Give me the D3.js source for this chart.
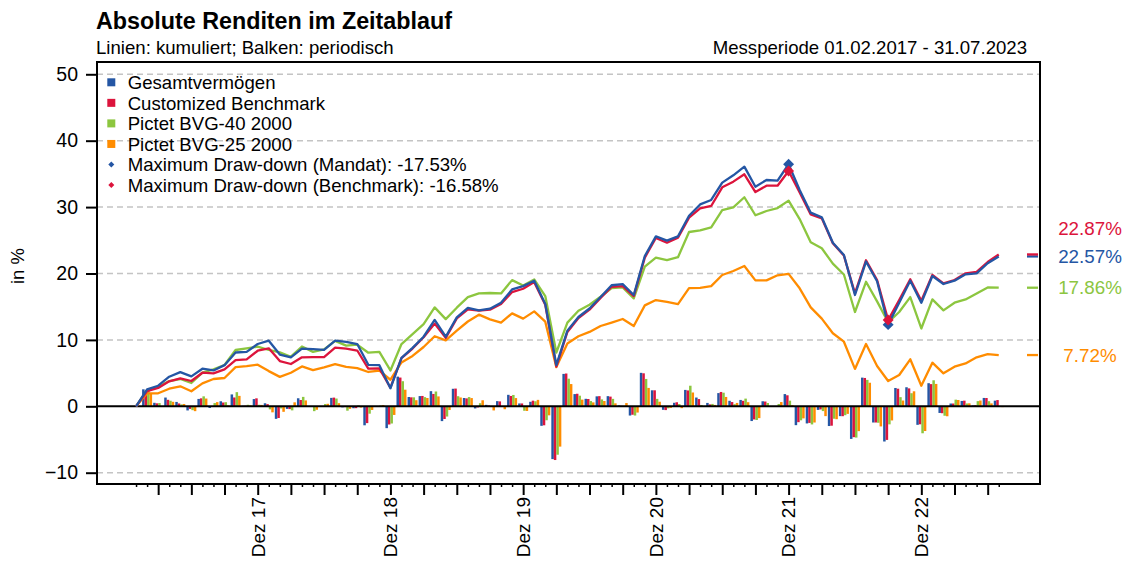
<!DOCTYPE html>
<html><head><meta charset="utf-8">
<script src="https://cdn.jsdelivr.net/npm/d3@7"></script>
<style>
body{margin:0;background:#fff;}
svg text{font-family:"Liberation Sans",Arial,Helvetica,sans-serif;fill:#000;}
</style>
</head><body>
<svg id="chart" width="1127" height="568"></svg>
<script>
// ---- categories (month ends, Jan 2017 = start point 0) ----
const months = ["Jan 17","Feb 17","Mär 17","Apr 17","Mai 17","Jun 17","Jul 17","Aug 17","Sep 17","Okt 17","Nov 17","Dez 17",
"Jan 18","Feb 18","Mär 18","Apr 18","Mai 18","Jun 18","Jul 18","Aug 18","Sep 18","Okt 18","Nov 18","Dez 18",
"Jan 19","Feb 19","Mär 19","Apr 19","Mai 19","Jun 19","Jul 19","Aug 19","Sep 19","Okt 19","Nov 19","Dez 19",
"Jan 20","Feb 20","Mär 20","Apr 20","Mai 20","Jun 20","Jul 20","Aug 20","Sep 20","Okt 20","Nov 20","Dez 20",
"Jan 21","Feb 21","Mär 21","Apr 21","Mai 21","Jun 21","Jul 21","Aug 21","Sep 21","Okt 21","Nov 21","Dez 21",
"Jan 22","Feb 22","Mär 22","Apr 22","Mai 22","Jun 22","Jul 22","Aug 22","Sep 22","Okt 22","Nov 22","Dez 22",
"Jan 23","Feb 23","Mär 23","Apr 23","Mai 23","Jun 23","Jul 23"];
const xTickLabels = ["Dez 17","Dez 18","Dez 19","Dez 20","Dez 21","Dez 22"];
const yTicks = [-10,0,10,20,30,40,50];

// ---- cumulative returns (lines), in % ----
const cumGesamt = [0,2.56,3.1,4.46,5.15,4.5,5.66,5.4,6.2,8.1,
8.2,9.38,9.88,7.8,7.38,8.68,8.6,8.5,9.88,9.7,
9.38,6.25,6.2,2.71,7.3,8.8,10.48,13.0,10.48,13.4,
14.82,14.45,14.7,15.6,17.6,18.1,18.9,15.4,6.22,11.4,
13.45,14.73,16.45,18.23,18.4,16.76,22.64,25.6,24.94,25.6,
28.7,30.4,31.07,33.68,34.79,36.09,33.07,34.08,33.98,36.45,
32.58,29.16,28.46,24.64,22.79,16.76,21.8,18.83,12.3,15.6,
18.92,15.6,19.62,18.42,18.92,19.88,20.03,21.54,22.57];
const cumBench = [0,2.30,2.76,3.77,4.22,3.81,5.06,4.97,5.57,6.97,
7.08,8.37,8.73,6.82,6.37,7.38,7.4,7.42,8.83,8.7,
8.4,5.66,5.7,2.8,7.25,8.7,10.4,12.45,10.3,13.25,
14.6,14.4,14.55,15.4,17.2,17.7,18.7,15.3,5.97,11.2,
13.3,14.55,16.3,18.0,18.1,16.6,22.4,25.35,24.64,25.4,
28.4,29.8,30.17,32.98,33.83,34.94,32.27,33.22,33.22,35.43,
32.2,28.9,28.3,24.55,22.7,17.0,22.0,19.02,13.0,16.0,
19.13,15.9,19.77,18.52,19.02,20.03,20.23,21.73,22.87];
const cumBVG40 = [0,2.45,2.95,3.81,4.11,3.51,5.06,5.57,6.22,8.48,
8.73,8.98,8.48,8.13,7.47,9.0,8.2,8.58,9.85,9.13,
9.28,8.07,8.2,5.4,9.38,10.86,12.39,14.9,13.13,14.85,
16.45,17.0,17.06,17.0,19.0,18.2,19.1,16.6,8.1,12.6,
14.4,15.3,16.5,17.8,17.9,16.26,21.05,22.4,22.03,22.45,
26.25,26.5,26.96,29.56,29.97,31.48,28.77,29.41,29.86,30.97,
28.2,24.7,23.8,21.48,19.85,14.2,18.75,15.8,12.65,14.2,
16.45,11.72,16.1,14.45,15.6,16.1,17.0,17.9,17.86];
const cumBVG25 = [0,1.96,1.96,2.65,3.01,2.26,3.46,4.11,4.26,5.9,
6.05,6.27,5.3,4.43,5.06,6.0,5.45,5.85,6.35,5.95,
5.75,5.17,5.37,4.0,6.6,7.58,8.93,10.55,9.93,11.39,
12.77,13.8,13.1,12.6,14.0,13.2,14.3,12.74,5.9,9.45,
10.55,11.2,12.09,12.6,13.15,12.09,15.2,16.0,15.72,15.4,
17.8,17.85,18.1,19.77,20.38,21.13,18.97,18.97,19.73,19.95,
17.77,14.9,13.2,11.0,9.73,5.63,9.38,6.07,3.81,4.71,
7.08,3.1,6.57,4.97,5.97,6.45,7.38,7.85,7.72];

// ---- periodic (monthly) returns (bars), Feb 17 .. Jul 23, in % ----
const perGesamt = [2.56,0.53,1.32,0.66,-0.62,1.11,-0.25,0.76,1.79,0.09,
1.09,0.46,-1.89,-0.39,1.21,-0.07,-0.09,1.27,-0.16,-0.29,
-2.86,-0.05,-3.29,4.47,1.40,1.54,2.28,-2.23,2.64,1.25,
-0.32,0.22,0.78,1.73,0.43,0.68,-2.94,-7.95,4.88,1.84,
1.13,1.50,1.53,0.14,-1.39,5.04,2.41,-0.53,0.53,2.47,
1.32,0.51,1.99,0.83,0.96,-2.22,0.76,-0.07,1.84,-2.84,
-2.58,-0.54,-2.97,-1.48,-4.91,4.32,-2.44,-5.30,2.76,2.87,
-2.79,3.48,-1.00,0.42,0.81,0.13,1.26,0.85];
const perBench = [2.30,0.45,0.98,0.43,-0.39,1.20,-0.09,0.57,1.33,0.10,
1.20,0.33,-1.76,-0.42,0.95,0.02,0.02,1.31,-0.12,-0.28,
-2.53,0.04,-2.74,4.33,1.35,1.56,1.86,-1.91,2.67,1.19,
-0.17,0.13,0.74,1.56,0.43,0.85,-2.86,-8.09,4.94,1.89,
1.10,1.53,1.46,0.08,-1.27,4.97,2.41,-0.57,0.61,2.39,
1.09,0.29,2.16,0.64,0.83,-1.98,0.72,0.00,1.66,-2.39,
-2.50,-0.47,-2.92,-1.49,-4.65,4.27,-2.44,-5.06,2.65,2.70,
-2.71,3.34,-1.04,0.42,0.85,0.17,1.25,0.94];
const perBVG40 = [2.45,0.49,0.84,0.29,-0.58,1.50,0.49,0.62,2.13,0.23,
0.23,-0.46,-0.32,-0.61,1.42,-0.73,0.35,1.17,-0.66,0.14,
-1.11,0.12,-2.59,3.78,1.35,1.38,2.23,-1.54,1.52,1.39,
0.47,0.05,-0.05,1.71,-0.67,0.76,-2.10,-7.29,4.16,1.60,
0.79,1.04,1.12,0.08,-1.39,4.12,1.12,-0.30,0.34,3.10,
0.20,0.36,2.05,0.32,1.16,-2.06,0.50,0.35,0.85,-2.11,
-2.73,-0.72,-1.87,-1.34,-4.71,3.98,-2.48,-2.72,1.38,1.97,
-4.06,3.92,-1.42,1.00,0.43,0.78,0.77,-0.03];
const perBVG25 = [1.96,0.00,0.68,0.35,-0.73,1.17,0.63,0.14,1.57,0.14,
0.21,-0.91,-0.83,0.60,0.89,-0.52,0.38,0.47,-0.38,-0.19,
-0.55,0.19,-1.30,2.50,0.92,1.25,1.49,-0.56,1.33,1.24,
0.91,-0.62,-0.44,1.24,-0.70,0.97,-1.36,-6.07,3.35,1.01,
0.59,0.80,0.45,0.49,-0.94,2.77,0.69,-0.24,-0.28,2.08,
0.04,0.21,1.41,0.51,0.62,-1.78,0.00,0.64,0.18,-1.82,
-2.44,-1.48,-1.94,-1.14,-3.74,3.55,-3.03,-2.13,0.87,2.26,
-3.72,3.37,-1.50,0.95,0.45,0.87,0.44,-0.12];

// ---- maximum draw-down: peak and trough month indices ----
const ddMandatIdx = [59, 68];
const ddBenchIdx = [59, 68];
const ddMandatText = "-17.53%";
const ddBenchText = "-16.58%";

const seriesNames = ["Gesamtvermögen","Customized Benchmark","Pictet BVG-40 2000","Pictet BVG-25 2000"];
const colors = ["#2456a4","#dc143c","#8cc63f","#ff8c00"];

// ---------------------------------------------------------------
const svg = d3.select("#chart");
const P = {l:97, t:62, r:1040, b:484};
const x = d3.scaleLinear().domain([-3.53, 81.73]).range([P.l, P.r]);
const y = d3.scaleLinear().domain([-11.7, 51.85]).range([P.b, P.t]);

// titles
svg.append("text").attr("x",96).attr("y",28.5).attr("font-size","23.3px").attr("font-weight","bold")
  .text("Absolute Renditen im Zeitablauf");
svg.append("text").attr("x",96).attr("y",53.5).attr("font-size","18.6px")
  .text("Linien: kumuliert; Balken: periodisch");
svg.append("text").attr("x",1027).attr("y",53.5).attr("font-size","18.6px").attr("text-anchor","end")
  .text("Messperiode 01.02.2017 - 31.07.2023");

// grid
svg.append("g").selectAll("line").data(yTicks.filter(v=>v!==0)).join("line")
  .attr("x1",P.l).attr("x2",P.r).attr("y1",d=>y(d)).attr("y2",d=>y(d))
  .attr("stroke","#c4c4c4").attr("stroke-width",1.5).attr("stroke-dasharray","6,4");

// bars
const cumAll = [cumGesamt, cumBench, cumBVG40, cumBVG25];
const perAll = [perGesamt, perBench, perBVG40, perBVG25];
const sub = d3.scaleBand().domain([0,1,2,3]).range([-5,5]);
const gBars = svg.append("g");
perAll.forEach((arr, s) => {
  gBars.append("g").selectAll("rect").data(arr).join("rect")
    .attr("x",(d,i)=>x(i+1)+sub(s))
    .attr("width",sub.bandwidth())
    .attr("y",d=>Math.min(y(d),y(0)))
    .attr("height",d=>Math.abs(y(d)-y(0)))
    .attr("fill",colors[s]);
});

// zero line
svg.append("line").attr("x1",P.l).attr("x2",P.r).attr("y1",y(0)).attr("y2",y(0))
  .attr("stroke","#000").attr("stroke-width",2);

// lines (orange, green, red, blue on top)
const line = d3.line().x((d,i)=>x(i)).y(d=>y(d));
[3,2,1,0].forEach(s => {
  svg.append("path").datum(cumAll[s]).attr("d",line)
    .attr("fill","none").attr("stroke",colors[s]).attr("stroke-width",2.3)
    .attr("stroke-linejoin","round");
});

// draw-down markers
const diamond = d3.symbol().type(d3.symbolSquare).size(60);
svg.append("g").selectAll("path").data(ddMandatIdx).join("path")
  .attr("d",diamond).attr("fill",colors[0])
  .attr("transform",d=>`translate(${x(d)},${y(cumGesamt[d])}) rotate(45)`);
svg.append("g").selectAll("path").data(ddBenchIdx).join("path")
  .attr("d",diamond).attr("fill",colors[1])
  .attr("transform",d=>`translate(${x(d)},${y(cumBench[d])}) rotate(45)`);

// final value markers and labels
const finals = cumAll.map((a,s)=>({s, v:a[a.length-1]}));
finals.forEach(f=>{
  svg.append("line").attr("x1",1027).attr("x2",1038).attr("y1",y(f.v)).attr("y2",y(f.v))
    .attr("stroke",colors[f.s]).attr("stroke-width",2.3);
});
const sorted = finals.slice().sort((a,b)=>a.v-b.v);
let lastY = Infinity;
sorted.forEach(f=>{
  let ly = y(f.v);
  if (ly > lastY - 28) ly = lastY - 28;
  f.ly = ly; lastY = ly;
});
finals.forEach(f=>{
  svg.append("text").attr("x",1090).attr("y",f.ly).attr("dy","0.36em")
    .attr("text-anchor","middle").attr("font-size","18.8px")
    .style("fill",colors[f.s]).text(d3.format(".2f")(f.v)+"%");
});

// frame
svg.append("rect").attr("x",P.l).attr("y",P.t).attr("width",P.r-P.l).attr("height",P.b-P.t)
  .attr("fill","none").attr("stroke","#000").attr("stroke-width",2);

// y axis
const yAxis = svg.append("g").attr("transform",`translate(${P.l},0)`)
  .call(d3.axisLeft(y).tickValues(yTicks).tickSize(11).tickPadding(8).tickFormat(d3.format("d")));
yAxis.select(".domain").remove();
yAxis.selectAll(".tick line").attr("stroke","#000").attr("stroke-width",2);
yAxis.selectAll(".tick text").attr("font-size","19.5px").attr("font-family","Liberation Sans, Arial, sans-serif");
svg.append("text").attr("transform","translate(24,266) rotate(-90)").attr("text-anchor","middle")
  .attr("font-size","18.5px").text("in %");

// x axis ticks
const idx = d3.range(months.length);
const xAxis = svg.append("g").attr("transform",`translate(0,${P.b})`)
  .call(d3.axisBottom(x).tickValues(idx).tickSize(3).tickFormat(""));
xAxis.select(".domain").remove();
xAxis.selectAll(".tick line")
  .attr("y2",d=> (d%3===2) ? 11 : 3)
  .attr("stroke","#000").attr("stroke-width",d=> (d%3===2) ? 2 : 1.5);
const decIdx = idx.filter(i=>months[i].startsWith("Dez"));
svg.append("g").selectAll("text").data(decIdx).join("text")
  .attr("transform",(d,k)=>`translate(${x(d)},497) rotate(-90)`)
  .attr("text-anchor","end").attr("dy","0.36em").attr("font-size","19px")
  .text((d,k)=>xTickLabels[k]);

// legend
const leg = svg.append("g");
const legItems = seriesNames.map((n,s)=>({type:"sq", color:colors[s], text:n}))
  .concat([{type:"dia", color:colors[0], text:"Maximum Draw-down (Mandat): "+ddMandatText},
           {type:"dia", color:colors[1], text:"Maximum Draw-down (Benchmark): "+ddBenchText}]);
legItems.forEach((it,k)=>{
  const cy = 82.3 + k*20.55;
  if (it.type==="sq") {
    leg.append("rect").attr("x",107.3).attr("y",cy-4).attr("width",8).attr("height",8).attr("fill",it.color);
  } else {
    leg.append("path").attr("d",d3.symbol().type(d3.symbolSquare).size(18)())
      .attr("fill",it.color).attr("transform",`translate(111.3,${cy}) rotate(45)`);
  }
  leg.append("text").attr("x",127.7).attr("y",cy).attr("dy","0.36em").attr("font-size","18.6px").text(it.text);
});
</script>
</body></html>
